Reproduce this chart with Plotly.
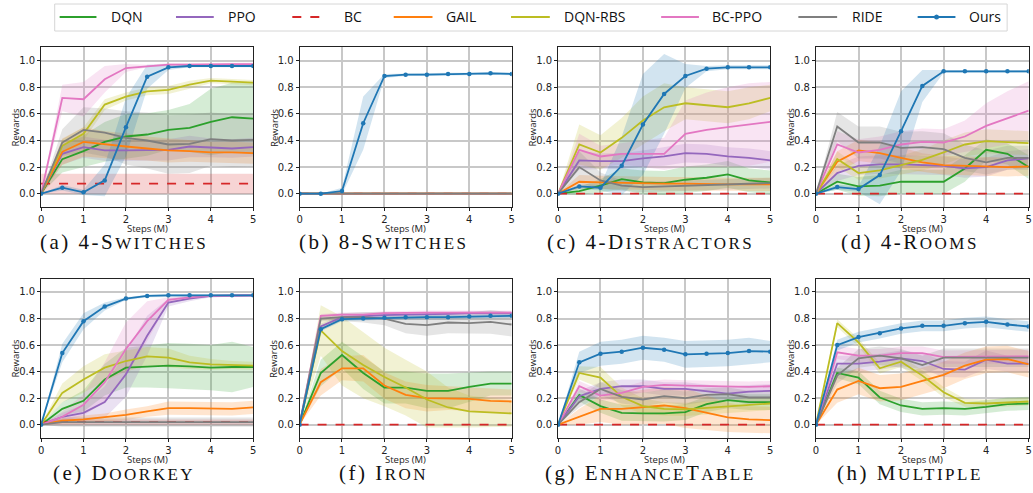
import plotly.graph_objects as go

W, H = 1033, 493

STEPS = [0, 0.5, 1, 1.5, 2, 2.5, 3, 3.5, 4, 4.5, 5]
METHODS = ["DQN", "PPO", "BC", "GAIL", "DQN-RBS", "BC-PPO", "RIDE", "Ours"]
COLORS = {
    "DQN": (44, 160, 44),
    "PPO": (148, 103, 189),
    "BC": (214, 39, 40),
    "GAIL": (255, 127, 14),
    "DQN-RBS": (188, 189, 34),
    "BC-PPO": (227, 119, 194),
    "RIDE": (127, 127, 127),
    "Ours": (31, 119, 180),
}

# ---------------- (a) 4-Switches ----------------
A_MEAN = {
    "DQN":     [0, 0.26, 0.32, 0.39, 0.43, 0.445, 0.48, 0.495, 0.54, 0.575, 0.565],
    "PPO":     [0, 0.30, 0.35, 0.325, 0.325, 0.33, 0.33, 0.355, 0.345, 0.34, 0.35],
    "BC":      [0.075] * 11,
    "GAIL":    [0, 0.315, 0.39, 0.37, 0.355, 0.34, 0.325, 0.32, 0.31, 0.31, 0.305],
    "DQN-RBS": [0, 0.36, 0.45, 0.67, 0.73, 0.77, 0.78, 0.82, 0.85, 0.845, 0.835],
    "BC-PPO":  [0, 0.72, 0.71, 0.86, 0.945, 0.96, 0.97, 0.97, 0.975, 0.975, 0.975],
    "RIDE":    [0, 0.385, 0.48, 0.46, 0.42, 0.40, 0.37, 0.375, 0.41, 0.40, 0.405],
    "Ours":    [0, 0.045, 0.01, 0.10, 0.50, 0.88, 0.95, 0.96, 0.96, 0.96, 0.96],
}
A_SD = {
    "DQN":     [0, 0.10, 0.12, 0.15, 0.17, 0.16, 0.15, 0.18, 0.25, 0.26, 0.27],
    "PPO":     [0, 0.08, 0.08, 0.08, 0.08, 0.08, 0.08, 0.08, 0.07, 0.07, 0.07],
    "BC":      [0.075] * 11,
    "GAIL":    [0, 0.10, 0.11, 0.10, 0.10, 0.09, 0.09, 0.08, 0.08, 0.08, 0.08],
    "DQN-RBS": [0, 0.05, 0.05, 0.04, 0.03, 0.03, 0.03, 0.03, 0.02, 0.02, 0.02],
    "BC-PPO":  [0, 0.10, 0.13, 0.10, 0.03, 0.01, 0.01, 0.01, 0.01, 0.01, 0.01],
    "RIDE":    [0, 0.10, 0.17, 0.18, 0.20, 0.21, 0.22, 0.22, 0.20, 0.20, 0.20],
    "Ours":    [0, 0.02, 0.02, 0.12, 0.22, 0.09, 0.02, 0.01, 0.01, 0.01, 0.01],
}

# ---------------- (b) 8-Switches ----------------
B_MEAN = {
    "DQN":     [0] * 11,
    "PPO":     [0] * 11,
    "BC":      [0] * 11,
    "GAIL":    [0] * 11,
    "DQN-RBS": [0] * 11,
    "BC-PPO":  [0] * 11,
    "RIDE":    [0] * 11,
    "Ours":    [0, 0.0, 0.02, 0.53, 0.885, 0.895, 0.895, 0.90, 0.90, 0.905, 0.90],
}
B_SD = {
    "DQN":     [0] * 11,
    "PPO":     [0] * 11,
    "BC":      [0] * 11,
    "GAIL":    [0] * 11,
    "DQN-RBS": [0] * 11,
    "BC-PPO":  [0] * 11,
    "RIDE":    [0] * 11,
    "Ours":    [0, 0.0, 0.025, 0.20, 0.015, 0.01, 0.01, 0.01, 0.01, 0.01, 0.01],
}

# ---------------- (c) 4-Distractors ----------------
C_MEAN = {
    "DQN":     [0, 0.02, 0.06, 0.11, 0.085, 0.08, 0.105, 0.12, 0.145, 0.10, 0.085],
    "PPO":     [0, 0.25, 0.245, 0.245, 0.265, 0.28, 0.305, 0.30, 0.28, 0.27, 0.25],
    "BC":      [0] * 11,
    "GAIL":    [0, 0.09, 0.085, 0.08, 0.08, 0.075, 0.075, 0.07, 0.07, 0.07, 0.07],
    "DQN-RBS": [0, 0.37, 0.31, 0.42, 0.55, 0.65, 0.68, 0.665, 0.65, 0.68, 0.72],
    "BC-PPO":  [0, 0.33, 0.28, 0.30, 0.30, 0.30, 0.45, 0.48, 0.50, 0.52, 0.54],
    "RIDE":    [0, 0.20, 0.10, 0.06, 0.05, 0.055, 0.06, 0.065, 0.07, 0.075, 0.08],
    "Ours":    [0, 0.055, 0.045, 0.21, 0.52, 0.75, 0.885, 0.94, 0.95, 0.95, 0.95],
}
C_SD = {
    "DQN":     [0, 0.03, 0.05, 0.08, 0.09, 0.09, 0.10, 0.10, 0.10, 0.09, 0.09],
    "PPO":     [0, 0.07, 0.06, 0.06, 0.06, 0.07, 0.07, 0.07, 0.07, 0.07, 0.07],
    "BC":      [0] * 11,
    "GAIL":    [0, 0.05, 0.05, 0.05, 0.05, 0.05, 0.05, 0.05, 0.05, 0.05, 0.05],
    "DQN-RBS": [0, 0.15, 0.13, 0.15, 0.18, 0.18, 0.12, 0.12, 0.12, 0.12, 0.10],
    "BC-PPO":  [0, 0.12, 0.08, 0.08, 0.10, 0.12, 0.25, 0.28, 0.30, 0.31, 0.30],
    "RIDE":    [0, 0.12, 0.06, 0.04, 0.04, 0.04, 0.04, 0.04, 0.04, 0.04, 0.04],
    "Ours":    [0, 0.02, 0.02, 0.22, 0.38, 0.30, 0.09, 0.02, 0.015, 0.015, 0.015],
}

# ---------------- (d) 4-Rooms ----------------
D_MEAN = {
    "DQN":     [0, 0.09, 0.055, 0.06, 0.09, 0.09, 0.09, 0.19, 0.33, 0.30, 0.20],
    "PPO":     [0, 0.155, 0.21, 0.22, 0.22, 0.215, 0.21, 0.19, 0.20, 0.25, 0.265],
    "BC":      [0] * 11,
    "GAIL":    [0, 0.24, 0.325, 0.305, 0.27, 0.235, 0.215, 0.21, 0.205, 0.20, 0.205],
    "DQN-RBS": [0, 0.26, 0.155, 0.175, 0.215, 0.255, 0.31, 0.37, 0.395, 0.39, 0.38],
    "BC-PPO":  [0, 0.37, 0.31, 0.33, 0.37, 0.39, 0.385, 0.43, 0.51, 0.57, 0.625],
    "RIDE":    [0, 0.505, 0.385, 0.385, 0.345, 0.35, 0.335, 0.27, 0.235, 0.27, 0.27],
    "Ours":    [0, 0.05, 0.035, 0.14, 0.47, 0.81, 0.92, 0.92, 0.92, 0.92, 0.92],
}
D_SD = {
    "DQN":     [0, 0.06, 0.07, 0.08, 0.09, 0.09, 0.09, 0.10, 0.08, 0.08, 0.09],
    "PPO":     [0, 0.06, 0.07, 0.07, 0.07, 0.07, 0.07, 0.07, 0.07, 0.07, 0.07],
    "BC":      [0] * 11,
    "GAIL":    [0, 0.08, 0.08, 0.08, 0.08, 0.07, 0.07, 0.07, 0.07, 0.07, 0.07],
    "DQN-RBS": [0, 0.06, 0.05, 0.06, 0.07, 0.08, 0.09, 0.09, 0.09, 0.09, 0.09],
    "BC-PPO":  [0, 0.10, 0.10, 0.10, 0.10, 0.10, 0.10, 0.12, 0.17, 0.20, 0.22],
    "RIDE":    [0, 0.11, 0.12, 0.12, 0.12, 0.12, 0.12, 0.10, 0.09, 0.09, 0.09],
    "Ours":    [0, 0.02, 0.02, 0.22, 0.30, 0.12, 0.01, 0.01, 0.01, 0.01, 0.01],
}

# ---------------- (e) Doorkey ----------------
E_MEAN = {
    "DQN":     [0, 0.12, 0.18, 0.34, 0.43, 0.44, 0.445, 0.44, 0.43, 0.435, 0.435],
    "PPO":     [0, 0.06, 0.09, 0.17, 0.38, 0.67, 0.92, 0.95, 0.97, 0.975, 0.975],
    "BC":      [0.02] * 11,
    "GAIL":    [0, 0.03, 0.04, 0.055, 0.075, 0.10, 0.125, 0.125, 0.12, 0.12, 0.13],
    "DQN-RBS": [0, 0.24, 0.34, 0.43, 0.48, 0.515, 0.505, 0.47, 0.455, 0.45, 0.445],
    "BC-PPO":  [0, 0.06, 0.15, 0.32, 0.57, 0.78, 0.94, 0.96, 0.97, 0.975, 0.975],
    "RIDE":    [0, 0.02, 0.02, 0.02, 0.02, 0.02, 0.02, 0.02, 0.02, 0.02, 0.02],
    "Ours":    [0, 0.54, 0.78, 0.89, 0.95, 0.97, 0.975, 0.975, 0.975, 0.975, 0.975],
}
E_SD = {
    "DQN":     [0, 0.05, 0.08, 0.12, 0.15, 0.16, 0.17, 0.17, 0.17, 0.19, 0.15],
    "PPO":     [0, 0.03, 0.06, 0.12, 0.17, 0.15, 0.03, 0.02, 0.01, 0.01, 0.01],
    "BC":      [0.02] * 11,
    "GAIL":    [0, 0.02, 0.03, 0.03, 0.04, 0.04, 0.05, 0.05, 0.05, 0.05, 0.05],
    "DQN-RBS": [0, 0.07, 0.10, 0.10, 0.08, 0.07, 0.07, 0.05, 0.04, 0.03, 0.03],
    "BC-PPO":  [0, 0.04, 0.08, 0.15, 0.20, 0.15, 0.02, 0.01, 0.01, 0.01, 0.01],
    "RIDE":    [0, 0.035, 0.035, 0.035, 0.035, 0.035, 0.035, 0.035, 0.035, 0.035, 0.035],
    "Ours":    [0, 0.07, 0.06, 0.03, 0.01, 0.01, 0.01, 0.01, 0.01, 0.01, 0.01],
}

# ---------------- (f) Iron ----------------
F_MEAN = {
    "DQN":     [0, 0.39, 0.525, 0.39, 0.28, 0.28, 0.255, 0.255, 0.285, 0.31, 0.31],
    "PPO":     [0, 0.74, 0.81, 0.82, 0.825, 0.83, 0.83, 0.835, 0.84, 0.84, 0.84],
    "BC":      [0] * 11,
    "GAIL":    [0, 0.32, 0.425, 0.425, 0.295, 0.225, 0.20, 0.20, 0.195, 0.18, 0.175],
    "DQN-RBS": [0, 0.71, 0.555, 0.45, 0.36, 0.28, 0.19, 0.13, 0.10, 0.09, 0.085],
    "BC-PPO":  [0, 0.82, 0.83, 0.83, 0.84, 0.845, 0.845, 0.845, 0.845, 0.845, 0.845],
    "RIDE":    [0, 0.80, 0.81, 0.81, 0.80, 0.76, 0.75, 0.77, 0.765, 0.775, 0.755],
    "Ours":    [0, 0.72, 0.795, 0.80, 0.805, 0.81, 0.81, 0.81, 0.815, 0.82, 0.82],
}
F_SD = {
    "DQN":     [0, 0.10, 0.10, 0.12, 0.12, 0.12, 0.13, 0.13, 0.11, 0.09, 0.09],
    "PPO":     [0, 0.02, 0.015, 0.015, 0.015, 0.015, 0.015, 0.015, 0.015, 0.015, 0.015],
    "BC":      [0] * 11,
    "GAIL":    [0, 0.10, 0.09, 0.10, 0.10, 0.10, 0.10, 0.09, 0.09, 0.09, 0.09],
    "DQN-RBS": [0, 0.19, 0.26, 0.25, 0.22, 0.21, 0.21, 0.15, 0.12, 0.11, 0.10],
    "BC-PPO":  [0, 0.015, 0.015, 0.015, 0.015, 0.015, 0.015, 0.015, 0.015, 0.015, 0.015],
    "RIDE":    [0, 0.02, 0.03, 0.04, 0.05, 0.07, 0.08, 0.08, 0.08, 0.09, 0.09],
    "Ours":    [0, 0.015, 0.015, 0.015, 0.015, 0.015, 0.015, 0.015, 0.015, 0.015, 0.015],
}

# ---------------- (g) EnhanceTable ----------------
G_MEAN = {
    "DQN":     [0, 0.225, 0.14, 0.09, 0.085, 0.085, 0.095, 0.155, 0.185, 0.17, 0.17],
    "PPO":     [0, 0.215, 0.27, 0.29, 0.29, 0.27, 0.27, 0.25, 0.235, 0.25, 0.255],
    "BC":      [0] * 11,
    "GAIL":    [0, 0.06, 0.12, 0.12, 0.13, 0.145, 0.125, 0.09, 0.055, 0.04, 0.035],
    "DQN-RBS": [0, 0.39, 0.355, 0.21, 0.14, 0.12, 0.115, 0.125, 0.135, 0.15, 0.16],
    "BC-PPO":  [0, 0.29, 0.22, 0.24, 0.285, 0.30, 0.295, 0.29, 0.285, 0.285, 0.29],
    "RIDE":    [0, 0.17, 0.27, 0.21, 0.19, 0.215, 0.20, 0.225, 0.23, 0.205, 0.205],
    "Ours":    [0, 0.47, 0.535, 0.55, 0.58, 0.565, 0.53, 0.535, 0.54, 0.555, 0.55],
}
G_SD = {
    "DQN":     [0, 0.05, 0.05, 0.06, 0.06, 0.06, 0.06, 0.06, 0.06, 0.06, 0.06],
    "PPO":     [0, 0.04, 0.05, 0.05, 0.05, 0.05, 0.05, 0.05, 0.05, 0.05, 0.05],
    "BC":      [0] * 11,
    "GAIL":    [0, 0.06, 0.10, 0.12, 0.13, 0.14, 0.15, 0.13, 0.11, 0.10, 0.10],
    "DQN-RBS": [0, 0.05, 0.08, 0.07, 0.06, 0.05, 0.05, 0.05, 0.05, 0.05, 0.05],
    "BC-PPO":  [0, 0.04, 0.04, 0.04, 0.04, 0.04, 0.04, 0.04, 0.04, 0.04, 0.04],
    "RIDE":    [0, 0.04, 0.05, 0.05, 0.05, 0.05, 0.05, 0.05, 0.05, 0.05, 0.05],
    "Ours":    [0, 0.08, 0.09, 0.09, 0.09, 0.09, 0.10, 0.10, 0.10, 0.10, 0.08],
}

# ---------------- (h) Multiple ----------------
H_MEAN = {
    "DQN":     [0, 0.39, 0.355, 0.205, 0.145, 0.12, 0.125, 0.12, 0.135, 0.155, 0.16],
    "PPO":     [0, 0.46, 0.46, 0.475, 0.50, 0.48, 0.42, 0.415, 0.49, 0.46, 0.46],
    "BC":      [0] * 11,
    "GAIL":    [0, 0.265, 0.33, 0.275, 0.285, 0.33, 0.375, 0.445, 0.49, 0.495, 0.455],
    "DQN-RBS": [0, 0.765, 0.62, 0.425, 0.475, 0.37, 0.245, 0.165, 0.16, 0.17, 0.175],
    "BC-PPO":  [0, 0.545, 0.52, 0.52, 0.54, 0.54, 0.51, 0.51, 0.51, 0.51, 0.515],
    "RIDE":    [0, 0.37, 0.50, 0.52, 0.50, 0.45, 0.505, 0.505, 0.505, 0.505, 0.505],
    "Ours":    [0, 0.60, 0.66, 0.69, 0.725, 0.745, 0.745, 0.765, 0.775, 0.755, 0.74],
}
H_SD = {
    "DQN":     [0, 0.04, 0.05, 0.05, 0.05, 0.05, 0.05, 0.05, 0.05, 0.05, 0.05],
    "PPO":     [0, 0.06, 0.06, 0.06, 0.06, 0.06, 0.06, 0.06, 0.07, 0.06, 0.06],
    "BC":      [0] * 11,
    "GAIL":    [0, 0.10, 0.10, 0.10, 0.10, 0.10, 0.10, 0.10, 0.10, 0.10, 0.10],
    "DQN-RBS": [0, 0.03, 0.03, 0.04, 0.04, 0.04, 0.04, 0.03, 0.03, 0.03, 0.03],
    "BC-PPO":  [0, 0.05, 0.05, 0.05, 0.05, 0.05, 0.05, 0.05, 0.05, 0.05, 0.05],
    "RIDE":    [0, 0.06, 0.07, 0.07, 0.07, 0.07, 0.07, 0.07, 0.07, 0.07, 0.07],
    "Ours":    [0, 0.04, 0.04, 0.04, 0.04, 0.04, 0.04, 0.04, 0.04, 0.04, 0.04],
}

# caption parts: (full-size capital text, small-caps text) pairs
CAPTIONS = [
    [("(a) 4-S", "WITCHES")],
    [("(b) 8-S", "WITCHES")],
    [("(c) 4-D", "ISTRACTORS")],
    [("(d) 4-R", "OOMS")],
    [("(e) D", "OORKEY")],
    [("(f) I", "RON")],
    [("(g) E", "NHANCE"), ("T", "ABLE")],
    [("(h) M", "ULTIPLE")],
]
DATA = [(A_MEAN, A_SD), (B_MEAN, B_SD), (C_MEAN, C_SD), (D_MEAN, D_SD),
        (E_MEAN, E_SD), (F_MEAN, F_SD), (G_MEAN, G_SD), (H_MEAN, H_SD)]

# pixel layout of plot areas
COL_PX = [(38.3, 251.7), (298.3, 511.7), (558.3, 771.7), (817.7, 1031.7)]
ROW_PX = [(47.4, 207.0), (278.7, 438.0)]
CAP_X = [122, 383, 651, 912]
CAP_Y = [242.5, 472.5]


def px_x(p):
    return p / W


def px_y(p):
    return 1 - p / H


def rgba(c, a):
    return "rgba(%d,%d,%d,%s)" % (c[0], c[1], c[2], a)


fig = go.Figure()
layout = {}
annotations = []
shapes = []

BIG = "<span style='letter-spacing:2.5px'>%s</span>"
SMALL = "<span style='font-size:17px;letter-spacing:2.5px'>%s</span>"

for i, ((means, sds), cap) in enumerate(zip(DATA, CAPTIONS)):
    r, c = divmod(i, 4)
    k = i + 1
    xa = "x" if k == 1 else "x%d" % k
    ya = "y" if k == 1 else "y%d" % k
    for m in METHODS:
        col = COLORS[m]
        mu = means[m]
        sd = sds[m]
        upper = [a + b for a, b in zip(mu, sd)]
        lower = [a - b for a, b in zip(mu, sd)]
        if max(sd) > 0:
            fig.add_trace(go.Scatter(
                x=STEPS + STEPS[::-1], y=upper + lower[::-1],
                fill="toself", fillcolor=rgba(col, 0.2),
                line=dict(width=0), mode="lines", hoverinfo="skip",
                showlegend=False, xaxis=xa, yaxis=ya))
    for m in METHODS:
        col = COLORS[m]
        mu = means[m]
        kw = dict(x=STEPS, y=mu, showlegend=False, xaxis=xa, yaxis=ya, name=m)
        if m == "BC":
            kw.update(mode="lines", line=dict(color=rgba(col, 1), width=1.8, dash="dash"))
        elif m == "Ours":
            kw.update(mode="lines+markers", line=dict(color=rgba(col, 1), width=1.8),
                      marker=dict(size=4.5, color=rgba(col, 1)))
        else:
            kw.update(mode="lines", line=dict(color=rgba(col, 1), width=1.8))
        fig.add_trace(go.Scatter(**kw))

    x0, x1 = COL_PX[c]
    y0, y1 = ROW_PX[r]
    axcommon = dict(showline=True, mirror=True, linecolor="#222222", linewidth=1,
                    showgrid=True, gridcolor="#c8c8c8", gridwidth=1.5,
                    ticks="outside", ticklen=3, tickcolor="#222222",
                    tickfont=dict(family="DejaVu Sans", size=10, color="#222222"),
                    zeroline=False, fixedrange=True)
    layout["xaxis" if k == 1 else "xaxis%d" % k] = dict(
        domain=[px_x(x0), px_x(x1)], range=[0, 5], tickvals=[0, 1, 2, 3, 4, 5],
        anchor=ya, **axcommon)
    layout["yaxis" if k == 1 else "yaxis%d" % k] = dict(
        domain=[px_y(y1), px_y(y0)], range=[-0.1, 1.1],
        tickvals=[0, 0.2, 0.4, 0.6, 0.8, 1.0], tickformat=".1f",
        anchor=xa, **axcommon)

    # axis labels
    annotations.append(dict(
        x=px_x((x0 + x1) / 2), y=px_y(y1 + 21.5), xref="paper", yref="paper",
        text="Steps (M)", showarrow=False, xanchor="center", yanchor="middle",
        borderpad=0, font=dict(family="Open Sans", size=9.5, color="#222222")))
    annotations.append(dict(
        x=px_x(x0 - 26), y=px_y((y0 + y1) / 2), xref="paper", yref="paper",
        text="Rewards", showarrow=False, textangle=-90, xanchor="center", yanchor="middle",
        borderpad=0, font=dict(family="Open Sans", size=9.5, color="#222222")))
    # caption
    text = "".join(BIG % a + SMALL % b for a, b in cap)
    annotations.append(dict(
        x=px_x(CAP_X[c]), y=px_y(CAP_Y[r]), xref="paper", yref="paper",
        text=text, showarrow=False, xanchor="center", yanchor="middle",
        borderpad=0, font=dict(family="Liberation Serif", size=21, color="#111111")))

# manual legend
LEG_LINE = [(57, 94), (174, 212), (291, 327), (393, 432), (511, 550), (662, 700), (800, 839), (920, 958)]
LEG_TEXT = [107, 224, 341, 444, 562, 711, 852, 970]
LEG_Y = 17
shapes.append(dict(type="rect", xref="paper", yref="paper",
                   x0=px_x(52), x1=px_x(1010), y0=px_y(31), y1=px_y(4),
                   line=dict(color="#d6d6d6", width=1), fillcolor="white", layer="above"))
for m, (lx0, lx1), tx in zip(METHODS, LEG_LINE, LEG_TEXT):
    col = COLORS[m]
    shapes.append(dict(type="line", xref="paper", yref="paper",
                       x0=px_x(lx0), x1=px_x(lx1), y0=px_y(LEG_Y), y1=px_y(LEG_Y),
                       line=dict(color=rgba(col, 1), width=2,
                                 dash="dash" if m == "BC" else "solid"),
                       layer="above"))
    if m == "Ours":
        shapes.append(dict(type="circle", xref="paper", yref="paper",
                           x0=px_x((lx0 + lx1) / 2 - 2.5), x1=px_x((lx0 + lx1) / 2 + 2.5),
                           y0=px_y(LEG_Y + 2.5), y1=px_y(LEG_Y - 2.5),
                           fillcolor=rgba(col, 1), line=dict(width=0), layer="above"))
    annotations.append(dict(
        x=px_x(tx), y=px_y(LEG_Y), xref="paper", yref="paper", text=m,
        showarrow=False, xanchor="left", yanchor="middle",
        font=dict(family="Open Sans", size=14, color="#111111")))

fig.update_layout(
    width=W, height=H, margin=dict(l=0, r=0, t=0, b=0),
    paper_bgcolor="white", plot_bgcolor="white",
    showlegend=False, annotations=annotations, shapes=shapes, **layout)

fig.write_html("out.html", config={"displayModeBar": False},
               post_script="document.body.style.margin='0';")
